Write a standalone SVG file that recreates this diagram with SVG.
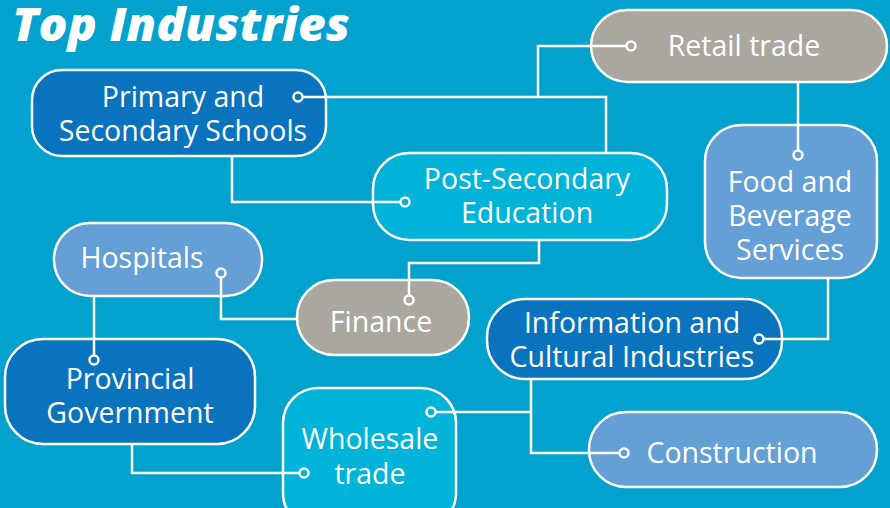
<svg xmlns="http://www.w3.org/2000/svg" width="890" height="508" viewBox="0 0 890 508">
<style>
.n{stroke:#fff;stroke-width:2.5}
.dk{fill:#0a73bd}.lb{fill:#649fd6}.cy{fill:#00b3d8}.gr{fill:#aaa79f}
.t{font-family:"Open Sans","Liberation Sans",sans-serif;font-size:28.5px;fill:#fff;text-anchor:middle}
.c{fill:none;stroke:#fff;stroke-width:2.5}
.d{stroke:#fff;stroke-width:2.5}
</style>
<rect width="890" height="508" fill="#01a2ce"/>
<text x="12" y="41" font-family="'Open Sans','Liberation Sans',sans-serif" font-size="46" font-weight="800" font-style="italic" fill="#fff" textLength="338" lengthAdjust="spacingAndGlyphs">Top Industries</text>
<g id="primary"><rect class="n dk" x="32" y="70" width="294" height="86" rx="30"/><text class="t" x="183" y="107">Primary and</text><text class="t" x="183" y="141">Secondary Schools</text></g>
<g id="retail"><rect class="n gr" x="591" y="10" width="296" height="72" rx="36"/><text class="t" x="744" y="56">Retail trade</text></g>
<g id="postsec"><rect class="n cy" x="373" y="153" width="294" height="87" rx="36"/><text class="t" x="527" y="189">Post-Secondary</text><text class="t" x="527" y="223">Education</text></g>
<g id="food"><rect class="n lb" x="705" y="125" width="172" height="153" rx="36"/><text class="t" x="790" y="192">Food and</text><text class="t" x="790" y="226">Beverage</text><text class="t" x="790" y="260">Services</text></g>
<g id="hospitals"><rect class="n lb" x="54" y="223" width="208" height="73" rx="36"/><text class="t" x="142" y="268">Hospitals</text></g>
<g id="finance"><rect class="n gr" x="297" y="280" width="172" height="75" rx="37"/><text class="t" x="381" y="332">Finance</text></g>
<g id="provincial"><rect class="n dk" x="5" y="339" width="250" height="105" rx="38"/><text class="t" x="130" y="389">Provincial</text><text class="t" x="130" y="423">Government</text></g>
<g id="info"><rect class="n dk" x="487" y="299" width="295" height="80" rx="38"/><text class="t" x="632" y="333">Information and</text><text class="t" x="632" y="367">Cultural Industries</text></g>
<g id="wholesale"><rect class="n cy" x="283" y="388" width="173" height="140" rx="35"/><text class="t" x="370" y="449">Wholesale</text><text class="t" x="370" y="484">trade</text></g>
<g id="construction"><rect class="n lb" x="589" y="412" width="288" height="75" rx="37"/><text class="t" x="732" y="463">Construction</text></g>
<g id="connectors">
<polyline class="c" points="303,97 606,97 606,153"/>
<polyline class="c" points="538,97 538,46 626,46"/>
<polyline class="c" points="232,156 232,202 400,202"/>
<polyline class="c" points="798,82 798,150"/>
<polyline class="c" points="539,240 539,263 409,263 409,295"/>
<polyline class="c" points="221,278 221,319 297,319"/>
<polyline class="c" points="94,296 94,355"/>
<polyline class="c" points="132,444 132,473 299,473"/>
<polyline class="c" points="436,412 531,412"/>
<polyline class="c" points="531,379 531,453 619,453"/>
<polyline class="c" points="764,339 828,339 828,278"/>
<circle class="d dk" cx="298" cy="97" r="4.5"/>
<circle class="d gr" cx="631" cy="46" r="4.5"/>
<circle class="d cy" cx="405" cy="202" r="4.5"/>
<circle class="d lb" cx="798" cy="155" r="4.5"/>
<circle class="d gr" cx="409" cy="300" r="4.5"/>
<circle class="d lb" cx="221" cy="273" r="4.5"/>
<circle class="d dk" cx="94" cy="360" r="4.5"/>
<circle class="d cy" cx="304" cy="473" r="4.5"/>
<circle class="d cy" cx="431" cy="412" r="4.5"/>
<circle class="d dk" cx="759" cy="339" r="4.5"/>
<circle class="d lb" cx="624" cy="453" r="4.5"/>
</g>
</svg>
